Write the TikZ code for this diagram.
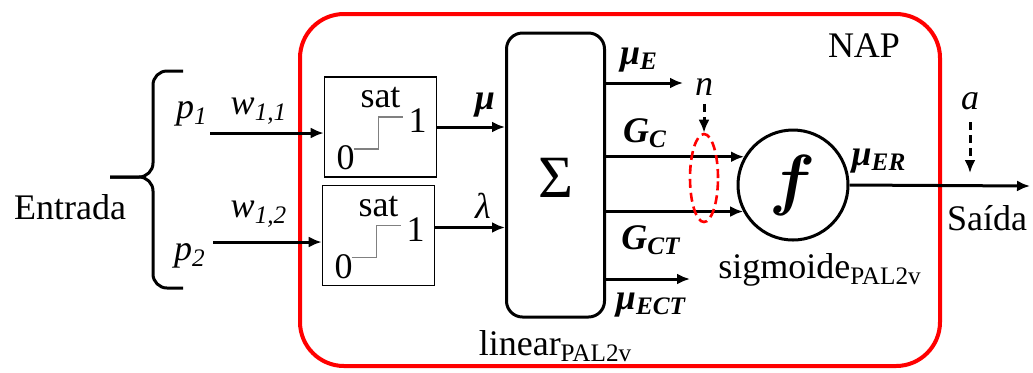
\documentclass[tikz,border=0pt]{standalone}
\usepackage{fix-cm}
\usepackage[no-math]{fontspec}
\setmainfont{Liberation Serif}
\usetikzlibrary{arrows.meta,positioning,shapes.geometric}

\begin{document}
\begin{tikzpicture}[
  x=0.5pt, y=-0.5pt,
  font=\fontsize{18}{21}\selectfont,
  arr/.style={-{Latex[length=6.5pt,width=5.5pt]}, line width=1.5pt},
  dasharr/.style={arr, dash pattern=on 4pt off 2.5pt},
  satbox/.style={draw, line width=0.8pt, minimum width=56pt, minimum height=50pt},
  sumbox/.style={draw, line width=1.5pt, rounded corners=8pt, minimum width=49pt, minimum height=142pt},
  lbl/.style={inner sep=0pt},
  ilbl/.style={lbl, font=\fontsize{18}{21}\selectfont\itshape},
  sig/.style={lbl, font=\fontsize{18}{21}\selectfont\bfseries\itshape}
]
\useasboundingbox (0,0) rectangle (1033,372);

% neuron frame
\node[draw=red, line width=2pt, rounded corners=22pt, minimum width=320pt, minimum height=176pt] (nap) at (620,190) {};
\node[lbl] (naplbl) at (864,46) {NAP};

% inputs
\node[lbl] (entrada) at (70,207) {Entrada};
\draw[line width=1.5pt, rounded corners=7pt] (183,71) -- (153,71) -- (153,177) -- (110,177);
\draw[line width=1.5pt, rounded corners=7pt] (183,288) -- (153,288) -- (153,177) -- (110,177);
\node[ilbl] (p1) at (192,114) {p\textsubscript{1}};
\node[ilbl] (p2) at (190,256) {p\textsubscript{2}};
\node[ilbl] (w11) at (259,111) {w\textsubscript{1,1}};
\node[ilbl] (w12) at (259,214) {w\textsubscript{1,2}};
\coordinate (x1) at (210,133);
\coordinate (x2) at (213,242);

% saturation blocks
\node[satbox] (sat1) at (380.5,127) {};
\node[satbox] (sat2) at (378.5,235.5) {};
\foreach \b in {sat1,sat2} {
  \node[lbl] at ([shift={(0,-29)}]\b.center) {sat};
  \node[lbl] at ([shift={(37,-6)}]\b.center) {1};
  \node[lbl] at ([shift={(-35,31)}]\b.center) {0};
  \draw[gray, line width=0.6pt] ([shift={(-27,22)}]\b.center) -- ++(25,0) -- ++(0,-32) -- ++(24,0);
}
\draw[arr] (x1) -- (x1 -| sat1.west);
\draw[arr] (x2) -- (x2 -| sat2.west);

% linear PAL2v block
\node[sumbox] (sigma) at (555.5,175) {};
\node[lbl, font=\fontsize{30}{32}\selectfont] at (555.5,178) {Σ};
\node[lbl, below=6pt of sigma] (linlbl) {linear\textsubscript{PAL2v}};
\draw[arr] (sat1.east) -- (sat1.east -| sigma.west);
\draw[arr] ([yshift=4pt]sat2.east) -- ([yshift=4pt]sat2.east -| sigma.west);
\node[sig] (mu) at (485,105) {μ};
\node[ilbl] (lambda) at (483,206) {λ};

% sigmoid block
\node[draw, circle, line width=1.5pt, minimum size=55pt, inner sep=0pt, font=\fontsize{34}{36}\selectfont\boldmath] (f) at (793,185) {$f$};
\node[lbl] (siglbl) at (820,270) {sigmoide\textsubscript{PAL2v}};

\coordinate (muE) at (683,83);
\coordinate (muECT) at (690,279);
\draw[arr] (sigma.east |- muE) -- (muE);
\draw[arr] (sigma.east |- f.150) -- (f.150);
\draw[arr] (sigma.east |- f.208) -- (f.208);
\draw[arr] (sigma.east |- muECT) -- (muECT);
\node[sig] (muElbl) at (639,60) {μ\textsubscript{E}};
\node[sig] (gclbl) at (645,133) {G\textsubscript{C}};
\node[sig] (gctlbl) at (651,240) {G\textsubscript{CT}};
\node[sig] (muectlbl) at (651,305) {μ\textsubscript{ECT}};

% grouped inputs of f
\node[draw=red, dash pattern=on 4.5pt off 2.5pt, line width=1.3pt, ellipse, minimum width=14pt, minimum height=44pt, inner sep=0pt] (bundle) at (704,178) {};
\node[ilbl] (nlbl) at (704,87) {n};
\draw[dasharr, shorten <=4pt] (nlbl.south) -- (bundle.north);

% output
\coordinate (outend) at (1030,186);
\draw[arr] (f.east) -- (outend);
\node[sig] (muERlbl) at (879,161) {μ\textsubscript{ER}};
\node[ilbl] (albl) at (970,101) {a};
\coordinate (atip) at (970,173);
\draw[dasharr, shorten <=6pt] (albl.south) -- (atip);
\node[lbl] (saida) at (987,218) {Saída};
\end{tikzpicture}
\end{document}
